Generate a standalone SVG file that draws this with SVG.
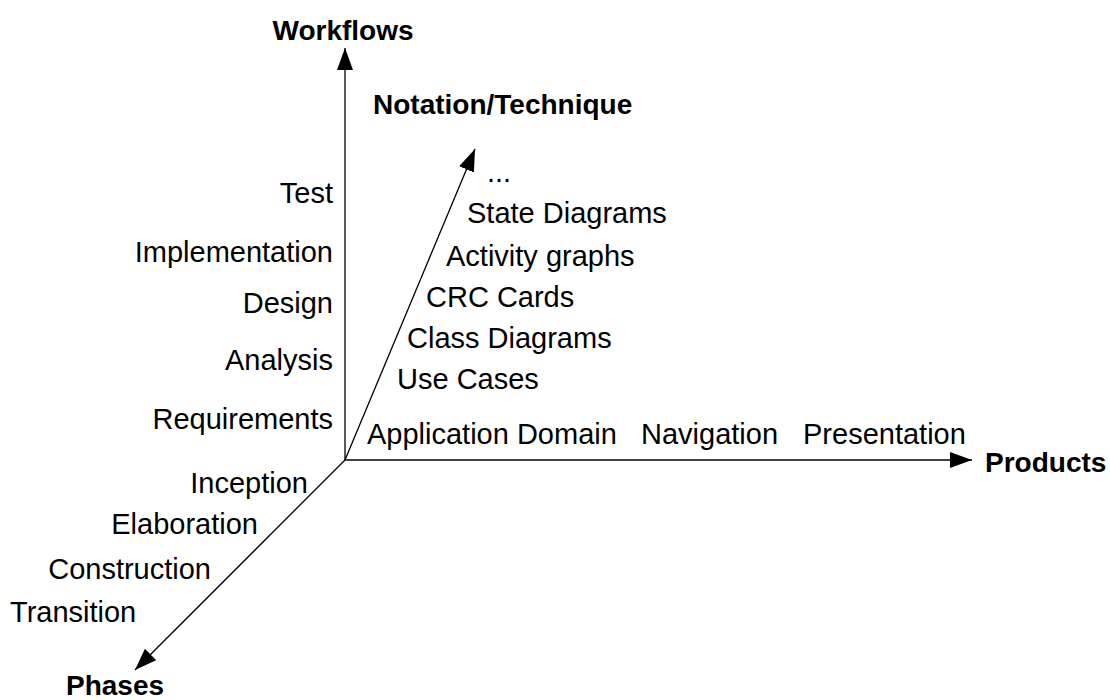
<svg xmlns="http://www.w3.org/2000/svg" width="1110" height="700" viewBox="0 0 1110 700">
<style>
text{font-family:"Liberation Sans",Arial,sans-serif;font-size:29px;fill:#000}
.b{font-weight:bold;font-size:28px}
.r{text-anchor:end}
.ax{stroke:#000;stroke-width:1.3;fill:none}
</style>
<defs>
<marker id="ah" markerUnits="userSpaceOnUse" markerWidth="24" markerHeight="18" refX="22" refY="8" orient="auto">
<path d="M0,0 L22,8 L0,16 Z" fill="#000"/>
</marker>
</defs>
<rect width="1110" height="700" fill="#fff"/>
<g id="connectors">
<line class="ax" x1="345" y1="460" x2="345" y2="48" marker-end="url(#ah)"/>
<line class="ax" x1="345" y1="460" x2="972" y2="460" marker-end="url(#ah)"/>
<line class="ax" x1="345" y1="460" x2="475" y2="149" marker-end="url(#ah)"/>
<line class="ax" x1="345" y1="460" x2="135" y2="670" marker-end="url(#ah)"/>
</g>
<g id="axis-workflows"><text class="b" x="343" y="40" text-anchor="middle">Workflows</text></g>
<g id="axis-notation"><text class="b" x="373" y="114">Notation/Technique</text></g>
<g id="axis-products"><text class="b" x="985" y="472">Products</text></g>
<g id="axis-phases"><text class="b" x="66" y="695">Phases</text></g>
<g id="workflows">
<text class="r" x="333" y="203">Test</text>
<text class="r" x="333" y="262">Implementation</text>
<text class="r" x="333" y="313">Design</text>
<text class="r" x="333" y="370">Analysis</text>
<text class="r" x="333" y="429">Requirements</text>
</g>
<g id="notations">
<text x="487" y="182">...</text>
<text x="467" y="223">State Diagrams</text>
<text x="446" y="266">Activity graphs</text>
<text x="426" y="307">CRC Cards</text>
<text x="407" y="348">Class Diagrams</text>
<text x="397" y="389">Use Cases</text>
</g>
<g id="products">
<text x="367" y="444">Application Domain</text>
<text x="641" y="444">Navigation</text>
<text x="803" y="444">Presentation</text>
</g>
<g id="phases">
<text class="r" x="308" y="493">Inception</text>
<text class="r" x="258" y="534">Elaboration</text>
<text class="r" x="211" y="579">Construction</text>
<text x="10" y="622">Transition</text>
</g>
</svg>
